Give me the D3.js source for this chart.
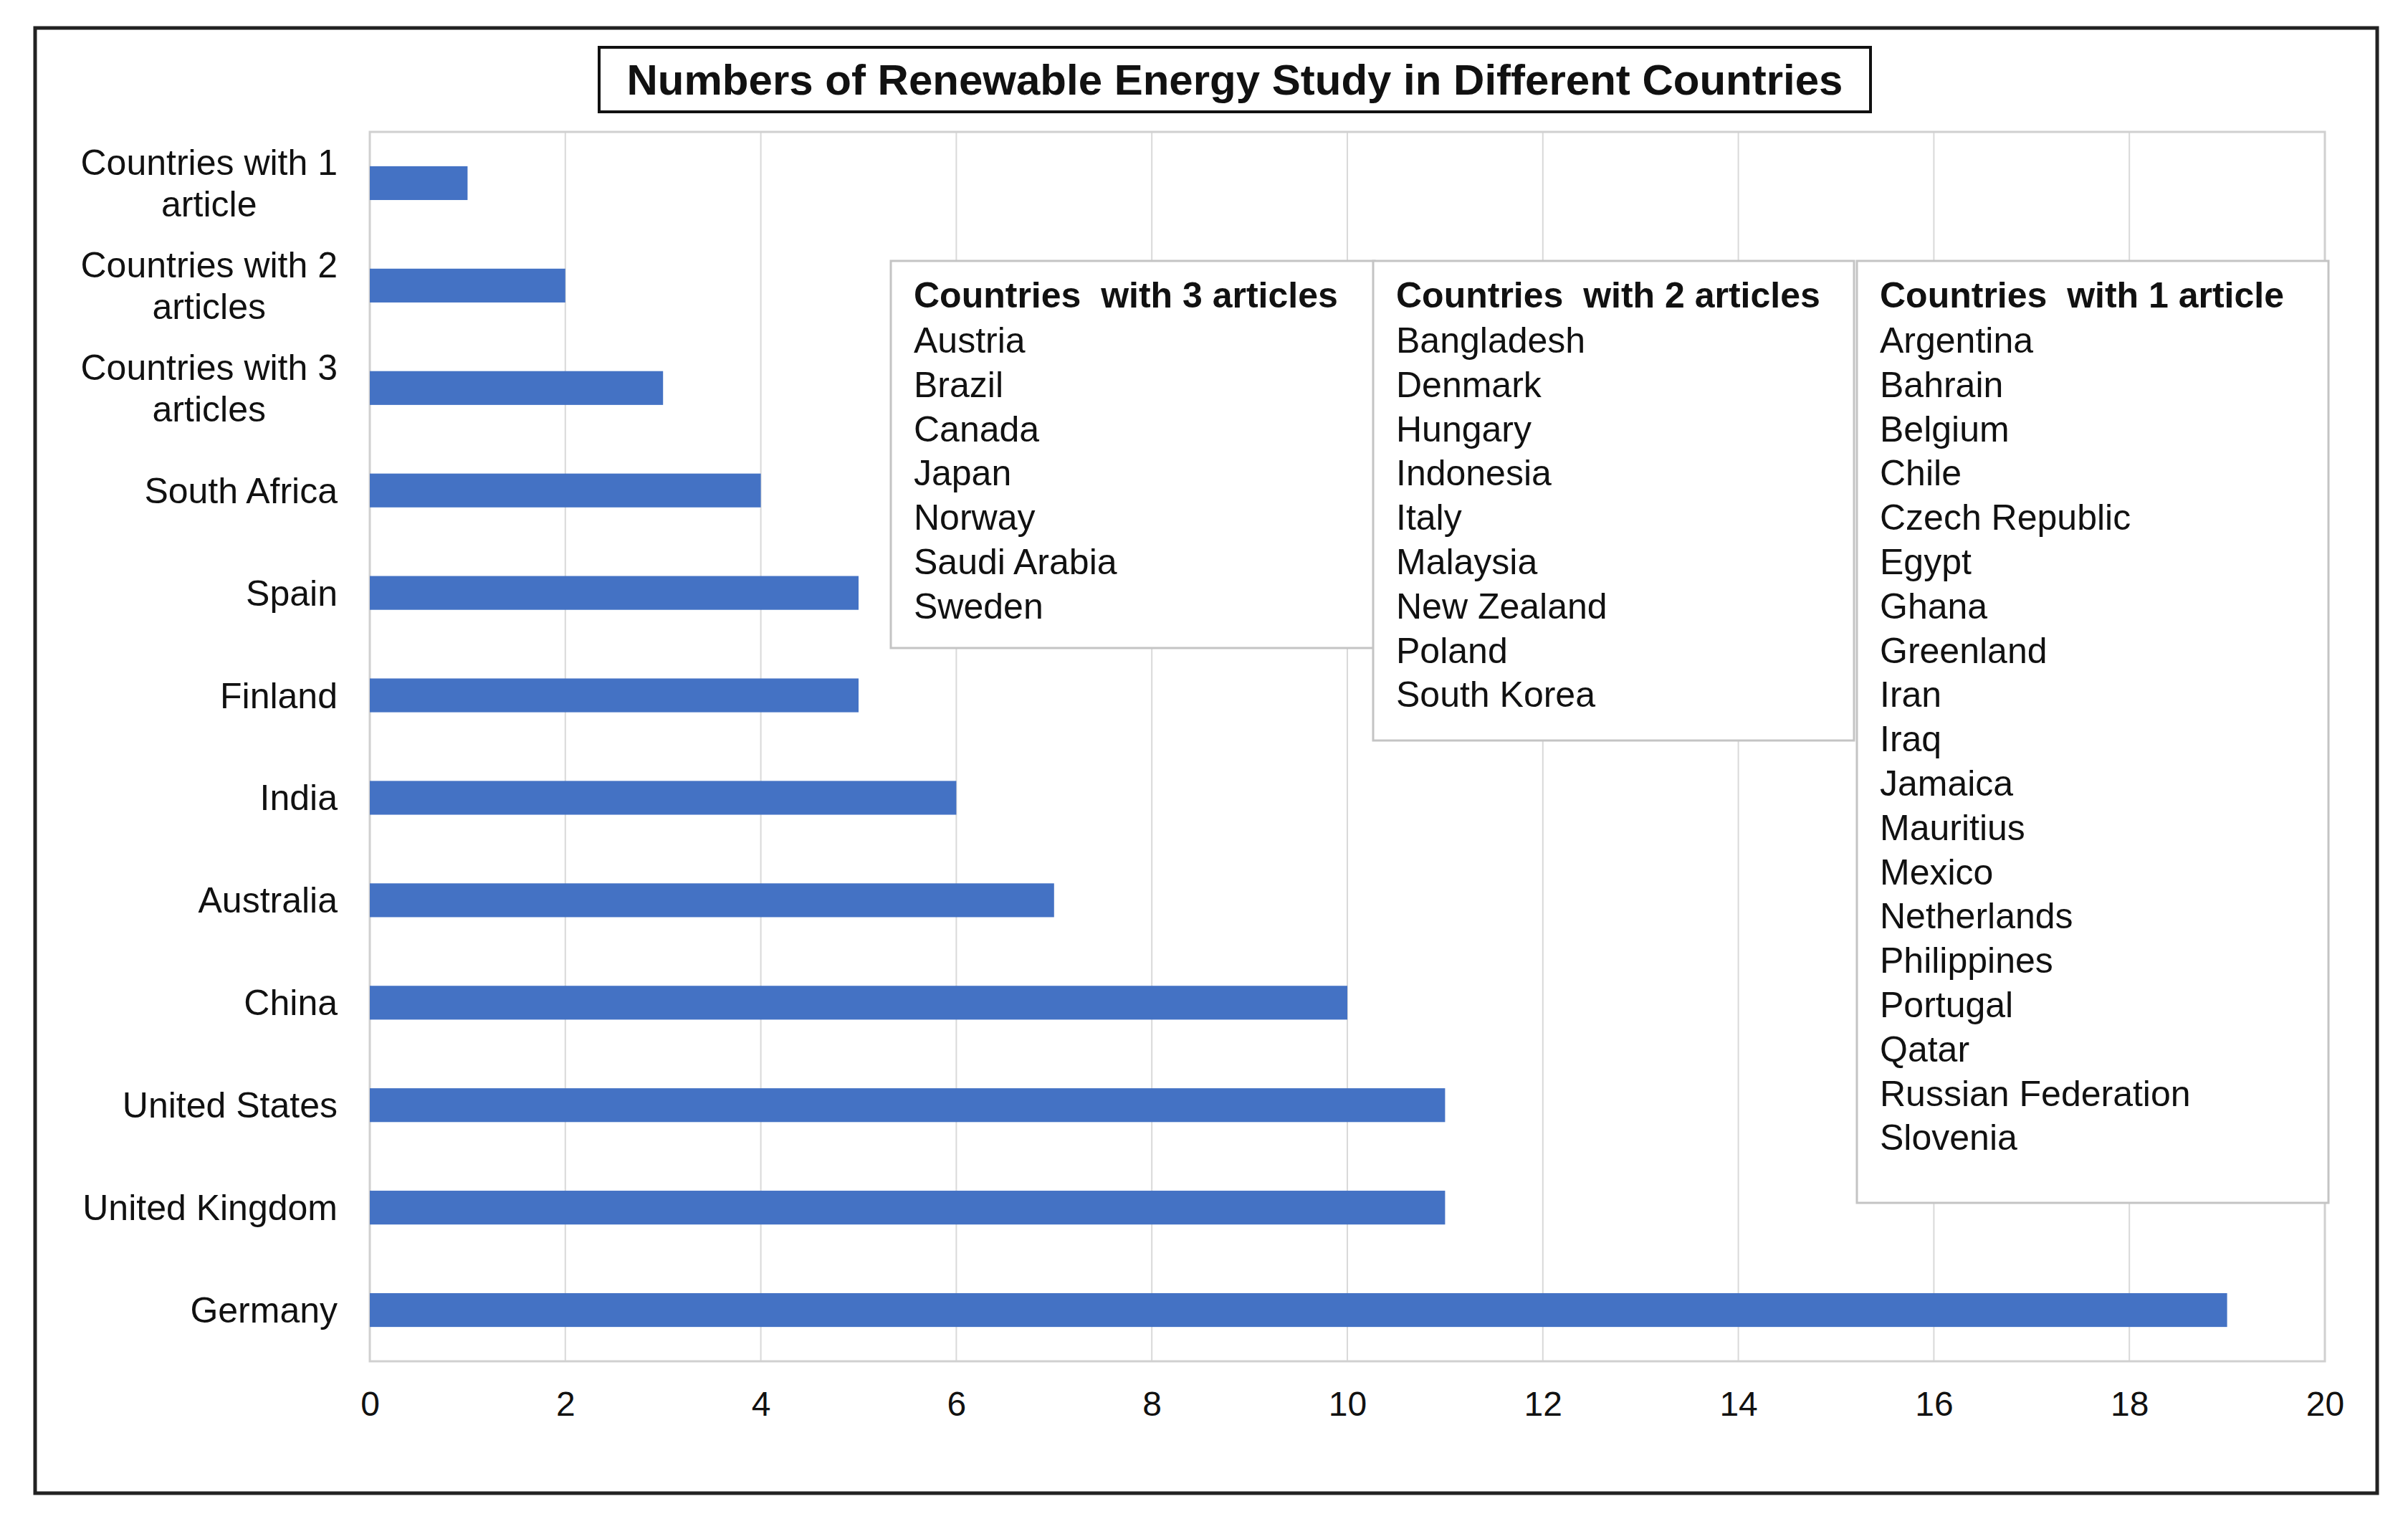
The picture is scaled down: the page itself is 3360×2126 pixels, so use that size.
<!DOCTYPE html>
<html>
<head>
<meta charset="utf-8">
<script src="https://cdn.jsdelivr.net/npm/d3@7"></script>
<style>
  body { margin: 0; background: #fff; }
  text { font-family: "Liberation Sans", Arial, sans-serif; fill: #111; }
</style>
</head>
<body>
<div id="chart"></div>
<script>
(function() {
  // bar categories, top to bottom
  var categories = ["Countries with 1 article", "Countries with 2 articles", "Countries with 3 articles",
    "South Africa", "Spain", "Finland", "India", "Australia", "China",
    "United States", "United Kingdom", "Germany"];
  var counts = [1, 2, 3, 4, 5, 5, 6, 7, 10, 11, 11, 19];
  var xTicks = [0, 2, 4, 6, 8, 10, 12, 14, 16, 18, 20];

  // the three annotation lists
  var threeArticles = ["Austria", "Brazil", "Canada", "Japan", "Norway", "Saudi Arabia", "Sweden"];
  var twoArticles = ["Bangladesh", "Denmark", "Hungary", "Indonesia", "Italy", "Malaysia",
    "New Zealand", "Poland", "South Korea"];
  var oneArticle = ["Argentina", "Bahrain", "Belgium", "Chile", "Czech Republic", "Egypt", "Ghana",
    "Greenland", "Iran", "Iraq", "Jamaica", "Mauritius", "Mexico", "Netherlands", "Philippines",
    "Portugal", "Qatar", "Russian Federation", "Slovenia"];

  var width = 3360,
      height = 2126;
  var plot = {left: 516, right: 3244, top: 184, bottom: 1899};

  var svg = d3.select("#chart").append("svg")
      .attr("width", width)
      .attr("height", height);

  // outer frame
  svg.append("rect")
      .attr("x", 49).attr("y", 39)
      .attr("width", 3268).attr("height", 2044)
      .attr("fill", "none")
      .attr("stroke", "#222")
      .attr("stroke-width", 5);

  var x = d3.scaleLinear().domain([0, 20]).range([plot.left, plot.right]);
  var y = d3.scaleBand().domain(categories).range([plot.top, plot.bottom])
      .paddingInner(0.67).paddingOuter(0.335);

  // gridlines
  svg.append("g").selectAll("line")
      .data(xTicks)
    .enter().append("line")
      .attr("x1", function(d) { return x(d); })
      .attr("x2", function(d) { return x(d); })
      .attr("y1", plot.top)
      .attr("y2", plot.bottom)
      .attr("stroke", "#d9d9d9")
      .attr("stroke-width", 2);

  // plot area border
  svg.append("rect")
      .attr("x", plot.left).attr("y", plot.top)
      .attr("width", plot.right - plot.left)
      .attr("height", plot.bottom - plot.top)
      .attr("fill", "none")
      .attr("stroke", "#d0d0d0")
      .attr("stroke-width", 3);

  // bars
  svg.append("g").selectAll("rect")
      .data(categories)
    .enter().append("rect")
      .attr("x", x(0))
      .attr("y", function(d) { return y(d); })
      .attr("width", function(d, i) { return x(counts[i]) - x(0); })
      .attr("height", y.bandwidth())
      .attr("fill", "#4472c4");

  // x axis
  var xAxis = svg.append("g")
      .attr("transform", "translate(0," + plot.bottom + ")")
      .call(d3.axisBottom(x).tickValues(xTicks).tickSize(0).tickPadding(42));
  xAxis.select(".domain").remove();
  xAxis.selectAll("text")
      .attr("font-size", 48)
      .style("font-family", "'Liberation Sans', Arial, sans-serif")
      .attr("fill", "#111");

  // y axis labels, long ones on two centred lines
  var labelRight = 471;
  var yLabels = svg.append("g").selectAll("text")
      .data(categories)
    .enter().append("text")
      .attr("font-size", 50)
      .attr("text-anchor", "middle");

  yLabels.each(function(d) {
    var t = d3.select(this),
        cy = y(d) + y.bandwidth() / 2,
        m = d.match(/^(Countries with \d) (.*)$/),
        lines = m ? [m[1], m[2]] : [d];
    var spans = lines.map(function(l, i) {
      return t.append("tspan")
          .attr("y", cy + (i - (lines.length - 1) / 2) * 58)
          .attr("dy", "0.35em")
          .text(l);
    });
    var w = d3.max(spans, function(s) { return s.node().getComputedTextLength(); });
    spans.forEach(function(s) { s.attr("x", labelRight - w / 2); });
  });

  // title
  svg.append("rect")
      .attr("x", 836).attr("y", 66)
      .attr("width", 1774).attr("height", 90)
      .attr("fill", "#fff")
      .attr("stroke", "#111")
      .attr("stroke-width", 4);
  svg.append("text")
      .attr("x", 1723).attr("y", 132)
      .attr("text-anchor", "middle")
      .attr("font-size", 60)
      .attr("font-weight", "bold")
      .text("Numbers of Renewable Energy Study in Different Countries");

  // annotation boxes
  var boxes = [
    {title: "Countries  with 3 articles", items: threeArticles, x: 1243, w: 675, h: 540},
    {title: "Countries  with 2 articles", items: twoArticles, x: 1916, w: 671, h: 669},
    {title: "Countries  with 1 article", items: oneArticle, x: 2591, w: 658, h: 1314}
  ];
  var boxTop = 364;

  boxes.forEach(function(b) {
    var g = svg.append("g").attr("transform", "translate(" + b.x + "," + boxTop + ")");
    g.append("rect")
        .attr("width", b.w).attr("height", b.h)
        .attr("fill", "#fff")
        .attr("stroke", "#c4c4c4")
        .attr("stroke-width", 3);
    g.append("text")
        .attr("x", 32).attr("y", 65)
        .attr("font-size", 50)
        .attr("font-weight", "bold")
        .style("white-space", "pre")
        .text(b.title);
    g.selectAll(".item")
        .data(b.items)
      .enter().append("text")
        .attr("class", "item")
        .attr("x", 32)
        .attr("y", function(d, i) { return 128 + i * 61.8; })
        .attr("font-size", 50)
        .text(function(d) { return d; });
  });
})();
</script>
</body>
</html>
